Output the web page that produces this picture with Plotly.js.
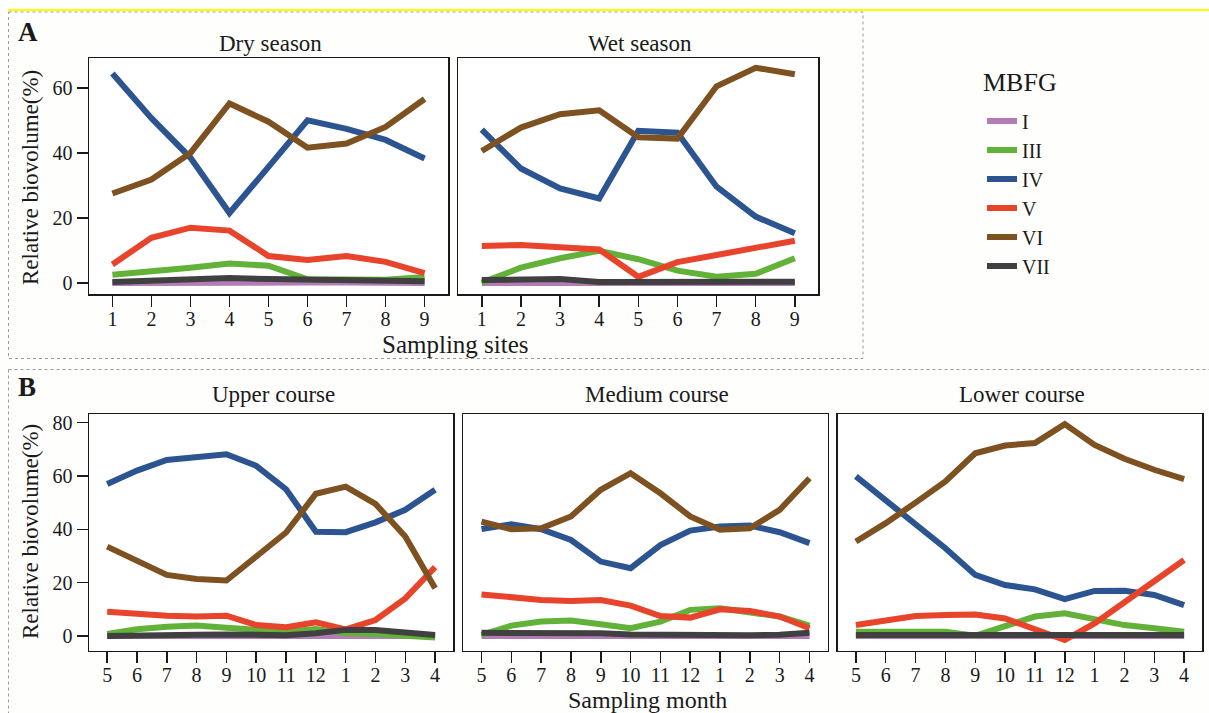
<!DOCTYPE html>
<html>
<head>
<meta charset="utf-8">
<script src="https://cdn.plot.ly/plotly-3.0.1.min.js"></script>
<style>html,body{margin:0;padding:0;background:#fff;}#chart{width:1209px;height:713px;}</style>
</head>
<body>
<div id="chart"></div>
<script>
// ---------- data ----------
const groups = ['I', 'III', 'IV', 'V', 'VI', 'VII'];
const colors = ['#b47cb6', '#62b23a', '#2b5491', '#e8432b', '#7e5121', '#404040'];

const sites = [1, 2, 3, 4, 5, 6, 7, 8, 9];
const months = ['5', '6', '7', '8', '9', '10', '11', '12', '1', '2', '3', '4'];

// Panel A, dry season
const dryI   = [0.0, 0.1, 0.2, 0.3, 0.2, 0.1, 0.1, 0.1, 0.0];
const dryIII = [2.5, 3.5, 4.7, 6.0, 5.3, 1.1, 0.9, 1.0, 1.8];
const dryIV  = [64.4, 50.7, 38.5, 21.5, 35.7, 50.0, 47.4, 44.0, 38.3];
const dryV   = [5.7, 13.9, 17.0, 16.1, 8.3, 7.1, 8.3, 6.5, 3.0];
const dryVI  = [27.5, 31.8, 40.0, 55.2, 49.6, 41.6, 42.9, 48.0, 56.6];
const dryVII = [0.3, 0.6, 1.0, 1.5, 1.2, 1.0, 1.0, 0.8, 0.5];

// Panel A, wet season
const wetI   = [0.0, 0.0, 0.0, 0.0, 0.0, 0.0, 0.0, 0.0, 0.0];
const wetIII = [0.1, 4.7, 7.6, 9.9, 7.3, 3.8, 1.9, 2.8, 7.6];
const wetIV  = [47.2, 35.2, 29.1, 26.0, 46.8, 46.2, 29.6, 20.4, 15.3];
const wetV   = [11.4, 11.7, 11.0, 10.3, 1.9, 6.4, 8.6, 11.0, 13.0];
const wetVI  = [40.6, 47.8, 51.9, 53.1, 44.8, 44.4, 60.5, 66.2, 64.2];
const wetVII = [0.9, 1.2, 1.2, 0.3, 0.4, 0.4, 0.4, 0.4, 0.4];

// Panel B, upper course
const upI   = [0.0, 0.0, 0.0, 0.0, 0.0, 0.0, 0.0, 0.0, 0.3, 0.2, 0.0, 0.0];
const upIII = [0.8, 2.5, 3.5, 3.9, 3.1, 2.3, 1.6, 2.6, 1.0, 0.8, 0.0, -0.6];
const upIV  = [57.0, 62.0, 66.0, 67.3, 68.1, 63.8, 55.0, 39.1, 38.9, 42.6, 47.3, 54.8];
const upV   = [9.1, 8.3, 7.6, 7.3, 7.6, 4.1, 3.3, 5.1, 2.5, 6.0, 14.1, 25.8];
const upVI  = [33.5, 27.9, 22.9, 21.4, 20.8, 29.8, 38.8, 53.3, 56.0, 49.5, 37.3, 17.9];
const upVII = [0.0, 0.3, 0.4, 0.5, 0.6, 0.5, 0.3, 1.0, 2.3, 2.3, 1.6, 0.4];

// Panel B, medium course
const medI   = [0.0, 0.0, 0.0, 0.0, 0.0, 0.0, 0.0, 0.0, 0.0, 0.0, 0.0, 0.0];
const medIII = [0.4, 3.9, 5.4, 5.8, 4.4, 2.9, 5.4, 9.8, 10.4, 8.9, 7.3, 3.9];
const medIV  = [40.1, 41.9, 40.0, 36.0, 27.9, 25.4, 34.1, 39.5, 41.0, 41.4, 38.9, 34.8];
const medV   = [15.6, 14.4, 13.5, 13.1, 13.5, 11.4, 7.5, 6.9, 10.0, 9.4, 7.3, 2.9];
const medVI  = [42.9, 40.0, 40.4, 44.8, 54.8, 61.0, 53.5, 44.8, 39.8, 40.4, 47.3, 59.1];
const medVII = [1.2, 1.2, 1.2, 1.2, 1.0, 0.6, 0.4, 0.3, 0.1, 0.3, 0.5, 1.2];

// Panel B, lower course
const lowI   = [0.0, 0.0, 0.0, 0.0, 0.0, 0.0, 0.0, 0.0, 0.0, 0.0, 0.0, 0.0];
const lowIII = [1.6, 1.6, 1.6, 1.6, 0.1, 3.5, 7.3, 8.5, 6.2, 4.1, 2.9, 1.6];
const lowIV  = [59.8, 51.0, 42.3, 32.9, 22.9, 19.1, 17.5, 13.8, 16.9, 17.0, 15.4, 11.6];
const lowV   = [4.1, 6.0, 7.5, 7.9, 8.1, 6.6, 2.5, -1.5, 4.7, 12.6, 20.4, 28.5];
const lowVI  = [35.4, 42.3, 50.0, 57.9, 68.5, 71.4, 72.3, 79.4, 71.6, 66.4, 62.3, 58.8];
const lowVII = [0.4, 0.4, 0.4, 0.4, 0.4, 0.4, 0.4, 0.4, 0.4, 0.4, 0.4, 0.4];

const yTicksA = [0, 20, 40, 60];
const yTicksB = [0, 20, 40, 60, 80];

// ---------- layout helpers ----------
const W = 1209, H = 713;
const px = x => x / W;
const py = y => 1 - y / H;
const FONT = '"Liberation Serif", "Times New Roman", serif';
const INK = '#1a1a1a';

const panels = [
  {x: sites,  series: [dryI, dryIII, dryIV, dryV, dryVI, dryVII], xa: 'x',  ya: 'y'},
  {x: sites,  series: [wetI, wetIII, wetIV, wetV, wetVI, wetVII], xa: 'x2', ya: 'y2'},
  {x: months, series: [upI, upIII, upIV, upV, upVI, upVII],       xa: 'x3', ya: 'y3'},
  {x: months, series: [medI, medIII, medIV, medV, medVI, medVII], xa: 'x4', ya: 'y4'},
  {x: months, series: [lowI, lowIII, lowIV, lowV, lowVI, lowVII], xa: 'x5', ya: 'y5'}
];

const traces = [];
panels.forEach((p, pi) => {
  p.series.forEach((vals, gi) => {
    traces.push({
      type: 'scatter', mode: 'lines',
      x: p.x, y: vals,
      xaxis: p.xa, yaxis: p.ya,
      name: groups[gi], legendgroup: groups[gi],
      showlegend: pi === 0,
      line: {color: colors[gi], width: 6},
      hoverinfo: 'skip'
    });
  });
});

function xAxisBase(d0, d1, anchor) {
  return {
    domain: [px(d0), px(d1)], anchor: anchor,
    showline: true, mirror: true, linecolor: INK, linewidth: 1.5,
    ticks: 'outside', ticklen: 11, tickwidth: 1.5, tickcolor: INK,
    ticklabelstandoff: -5,
    showgrid: false, zeroline: false,
    tickfont: {family: FONT, size: 20, color: INK}, fixedrange: true
  };
}
function yAxisBase(d0, d1, anchor, range, tickvals, labels) {
  return {
    domain: [py(d1), py(d0)], anchor: anchor, range: range,
    showline: true, mirror: true, linecolor: INK, linewidth: 1.5,
    ticks: labels ? 'outside' : '', ticklen: 11, tickwidth: 1.5, tickcolor: INK,
    tickvals: tickvals, showticklabels: labels,
    showgrid: false, zeroline: false,
    tickfont: {family: FONT, size: 20, color: INK}, fixedrange: true
  };
}

const rangeA = [-3.4, 69.2];
const rangeB = [-5.5, 83.2];
const rangeSites = [0.4, 9.6];
const rangeMonths = [-0.61, 11.61];

const xa1 = Object.assign(xAxisBase(89, 448, 'y'), {range: rangeSites, tickvals: sites});
const xa2 = Object.assign(xAxisBase(458.3, 818.3, 'y2'), {range: rangeSites, tickvals: sites});
const xa3 = Object.assign(xAxisBase(89, 453.3, 'y3'), {type: 'category', range: rangeMonths, categoryarray: months});
const xa4 = Object.assign(xAxisBase(463.3, 827.7, 'y4'), {type: 'category', range: rangeMonths, categoryarray: months});
const xa5 = Object.assign(xAxisBase(837.7, 1202.3, 'y5'), {type: 'category', range: rangeMonths, categoryarray: months});

const layout = {
  width: W, height: H,
  margin: {l: 0, r: 0, t: 0, b: 0, pad: 0},
  paper_bgcolor: '#fefefd', plot_bgcolor: '#ffffff',
  font: {family: FONT, color: INK},
  showlegend: true,
  legend: {
    x: px(982), y: py(101.5), xanchor: 'left', yanchor: 'top',
    bgcolor: 'rgba(0,0,0,0)', borderwidth: 0,
    font: {family: FONT, size: 20, color: INK},
    tracegroupgap: 0
  },
  xaxis: xa1, xaxis2: xa2, xaxis3: xa3, xaxis4: xa4, xaxis5: xa5,
  yaxis:  yAxisBase(58, 294, 'x', rangeA, yTicksA, true),
  yaxis2: yAxisBase(58, 294, 'x2', rangeA, yTicksA, false),
  yaxis3: yAxisBase(414, 650.7, 'x3', rangeB, yTicksB, true),
  yaxis4: yAxisBase(414, 650.7, 'x4', rangeB, yTicksB, false),
  yaxis5: yAxisBase(414, 650.7, 'x5', rangeB, yTicksB, false),
  shapes: [
    {type: 'line', xref: 'paper', yref: 'paper', x0: px(8), x1: px(1209), y0: py(10), y1: py(10),
     line: {color: '#ffff00', width: 2}},
    {type: 'rect', xref: 'paper', yref: 'paper', x0: px(8.5), x1: px(863), y0: py(12), y1: py(358.5),
     line: {color: '#9a9a9a', width: 1, dash: 'dot'}},
    {type: 'line', xref: 'paper', yref: 'paper', x0: px(8.5), x1: px(1209), y0: py(369.5), y1: py(369.5),
     line: {color: '#9a9a9a', width: 1, dash: 'dot'}},
    {type: 'line', xref: 'paper', yref: 'paper', x0: px(8.5), x1: px(8.5), y0: py(369.5), y1: py(713),
     line: {color: '#9a9a9a', width: 1, dash: 'dot'}}
  ],
  annotations: []
};

function label(text, x, y, size, opts) {
  layout.annotations.push(Object.assign({
    text: text, xref: 'paper', yref: 'paper', x: px(x), y: py(y),
    xanchor: 'center', yanchor: 'middle', showarrow: false,
    font: {family: FONT, size: size, color: INK}
  }, opts || {}));
}
label('<b>A</b>', 28, 32, 27);
label('<b>B</b>', 27, 387, 27);
label('Dry season', 270, 43.5, 23);
label('Wet season', 640, 43.5, 23);
label('Upper course', 273, 395, 23);
label('Medium course', 657, 395, 23);
label('Lower course', 1022, 395, 23);
label('MBFG', 1020, 82, 26);
label('Sampling sites', 455, 344.5, 25);
label('Sampling month', 647, 699.5, 24);
label('Relative biovolume(%)', 30, 178, 23, {textangle: -90});
label('Relative biovolume(%)', 30, 532, 23, {textangle: -90});

Plotly.newPlot('chart', traces, layout, {displayModeBar: false, staticPlot: true});
</script>
</body>
</html>
